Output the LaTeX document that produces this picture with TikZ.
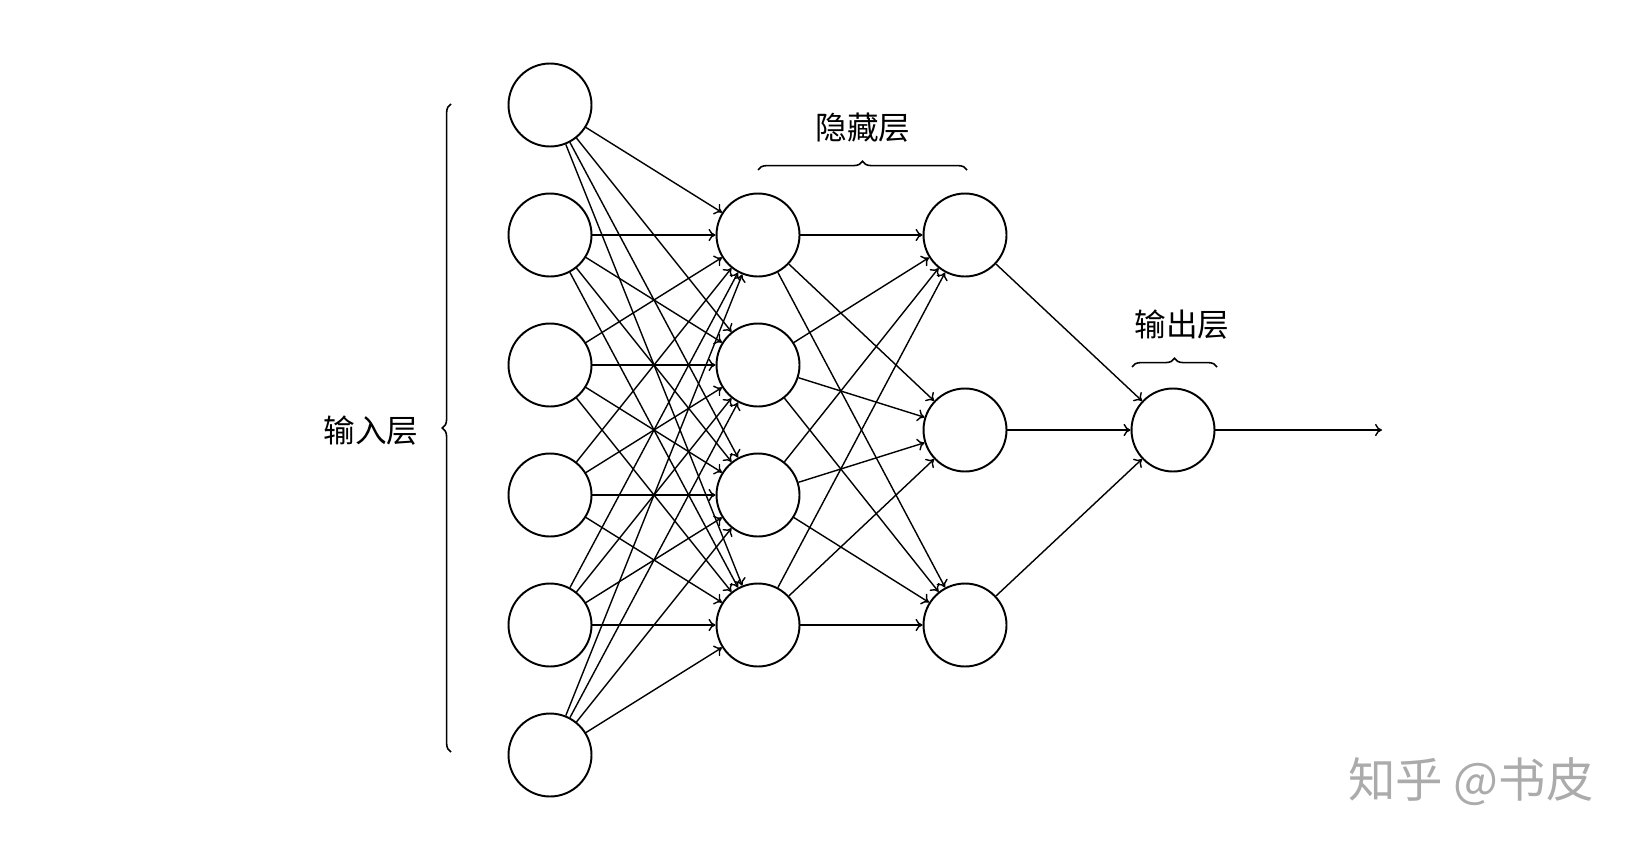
\documentclass[tikz,border=0pt]{standalone}
\usepackage{fontspec}
\newfontfamily\cjk{Noto Sans CJK SC}
\usetikzlibrary{positioning,arrows.meta,decorations.pathreplacing}

\begin{document}
\begin{tikzpicture}[x=0.02cm, y=-0.02cm, ->, >={To[length=4pt,width=7pt]}, main/.style = {circle, draw, fill=white, minimum size=1.66cm, inner sep=0pt, line width=1.1pt}, every edge/.append style={line width=0.8pt}, lab/.style={font=\cjk\fontsize{18}{21}\selectfont}, brc/.style={-, decorate, decoration={brace, amplitude=5pt}, line width=0.9pt}]

\useasboundingbox (0,0) rectangle (1638,848);

% layers
\foreach \n/\y in {1/105,2/235,3/365,4/495,5/625,6/755}
  \node[main] (i\n) at (550,\y) {};
\foreach \n/\y in {1/235,2/365,3/495,4/625}
  \node[main] (h\n) at (758,\y) {};
\foreach \n/\y in {1/235,2/430,3/625}
  \node[main] (k\n) at (965,\y) {};
\node[main] (o) at (1173,430) {};
\coordinate (out) at (1382,430);

% connections
\foreach \a in {1,...,6}
  \foreach \b in {1,...,4}
    \path (i\a) edge (h\b);
\foreach \a in {1,...,4}
  \foreach \b in {1,...,3}
    \path (h\a) edge (k\b);
\foreach \a in {1,...,3}
  \path (k\a) edge (o);
\path (o) edge (out);

% braces and labels
\draw[brc] (451,752) -- (451,104);
\draw[brc] (758,170) -- (967,170);
\draw[brc] (1132,367) -- (1217,367);

\node[lab] (tin) at (371,431) {输入层};
\node[lab] (thid) at (863,128) {隐藏层};
\node[lab] (tout) at (1182,325) {输出层};

\node[font=\cjk\fontsize{27}{30}\selectfont, text=black!33] (wm) at (1471,782) {知乎 @书皮};
\end{tikzpicture}
\end{document}
